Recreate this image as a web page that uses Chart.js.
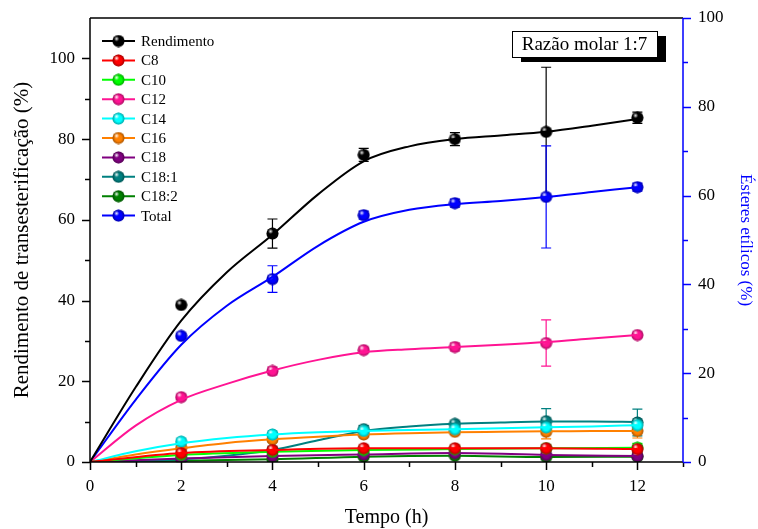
<!DOCTYPE html>
<html>
<head>
<meta charset="utf-8">
<script src="https://cdn.jsdelivr.net/npm/chart.js@4.4.1/dist/chart.umd.min.js"></script>
<style>
  html, body { margin: 0; padding: 0; background: #fff; }
  #wrap { width: 758px; height: 529px; }
</style>
</head>
<body>
<div id="wrap"><canvas id="c" width="758" height="529"></canvas></div>
<script>
// Sampling times (h) of the measured points and of the fitted curves
const tempo = [0, 2, 4, 6, 8, 10, 12];
const horas = [0, 1, 2, 3, 4, 5, 6, 7, 8, 9, 10, 11, 12];

// Transesterification yield (%), left axis
const rendimento      = [0, 38.9, 56.6, 76.1, 80.0, 81.8, 85.3];
const rendimentoErr   = [0, 0, 3.6, 1.6, 1.6, 16.0, 1.4];
const rendimentoCurva = [0, 18.5, 35.0, 47.0, 56.3, 66.3, 74.5, 78.2, 80.0, 80.9, 81.8, 83.3, 85.0];

// Ethyl esters (%), right axis
const c8      = [0, 2.0, 2.7, 3.1, 3.1, 3.1, 2.9];
const c8Err   = [0, 0.3, 0.4, 0.4, 0.4, 0.4, 0.6];
const c10     = [0, 1.6, 2.3, 2.7, 2.9, 3.1, 3.2];
const c10Err  = [0, 0.3, 0.3, 0.3, 0.3, 0.3, 1.0];
const c12      = [0, 14.6, 20.5, 25.2, 25.9, 26.8, 28.6];
const c12Err   = [0, 0.5, 0.9, 0.5, 0.9, 5.2, 0.4];
const c12Curva = [0, 8.2, 14.0, 17.6, 20.6, 23.0, 24.7, 25.4, 25.9, 26.4, 27.0, 27.8, 28.6];
const c14      = [0, 4.6, 6.2, 7.0, 7.4, 7.8, 8.3];
const c14Err   = [0, 0.6, 0.5, 0.4, 0.4, 0.4, 0.5];
const c14Curva = [0, 2.4, 4.2, 5.4, 6.2, 6.7, 7.0, 7.2, 7.4, 7.6, 7.8, 8.0, 8.3];
const c16      = [0, 3.2, 5.1, 6.2, 6.8, 6.8, 7.0];
const c16Err   = [0, 0.6, 0.6, 0.5, 0.5, 1.6, 1.6];
const c16Curva = [0, 1.7, 3.1, 4.3, 5.1, 5.7, 6.2, 6.5, 6.7, 6.8, 6.9, 7.0, 7.0];
const c18     = [0, 0.8, 1.35, 1.7, 2.0, 1.6, 1.35];
const c18Err  = [0, 0.3, 0.3, 0.3, 0.3, 0.3, 0.3];
const c181      = [0, 0.5, 2.7, 7.4, 8.6, 9.2, 8.9];
const c181Err   = [0, 0.3, 0.5, 0.8, 0.5, 2.8, 3.0];
const c181Curva = [0, 0.2, 0.6, 1.4, 2.7, 4.9, 7.0, 8.0, 8.6, 8.9, 9.1, 9.1, 9.0];
const c182    = [0, 0.3, 0.6, 1.2, 1.4, 1.1, 1.2];
const c182Err = [0, 0.2, 0.2, 0.2, 0.2, 0.2, 0.2];
const total      = [0, 28.4, 41.2, 55.6, 58.3, 59.7, 61.9];
const totalErr   = [0, 0.5, 3.0, 0.9, 0.9, 11.5, 0.9];
const totalCurva = [0, 14.0, 26.4, 35.2, 41.7, 48.7, 54.1, 56.8, 58.1, 58.8, 59.7, 60.8, 61.9];

// Axis tick labels
const xTickLabels = ['0', '2', '4', '6', '8', '10', '12'];
const yLeftTicks  = [0, 20, 40, 60, 80, 100];
const yRightTicks = [0, 20, 40, 60, 80, 100];

const SERIF = "'Liberation Serif', 'Times New Roman', serif";
Chart.defaults.font.family = SERIF;
Chart.defaults.color = '#000';

// Shaded ball marker
function sphere(color) {
  const s = 13, c = document.createElement('canvas');
  c.width = s; c.height = s;
  const g = c.getContext('2d');
  g.beginPath(); g.arc(6.5, 6.5, 6, 0, Math.PI * 2);
  g.fillStyle = color; g.fill();
  const sh = g.createRadialGradient(6.5, 6.5, 0, 6.5, 6.5, 6);
  sh.addColorStop(0.55, 'rgba(0,0,0,0)');
  sh.addColorStop(1, 'rgba(0,0,0,0.35)');
  g.fillStyle = sh; g.fill();
  const hl = g.createRadialGradient(4.6, 4.3, 0, 4.6, 4.3, 2.6);
  hl.addColorStop(0, 'rgba(255,255,255,0.95)');
  hl.addColorStop(1, 'rgba(255,255,255,0)');
  g.fillStyle = hl; g.fill();
  return c;
}

const toPoints = (xs, ys) => xs.map((t, i) => ({ x: t, y: ys[i] }));

// Each series: a smooth curve plus its measured points with error bars
function series(label, values, errors, color, axis, curveX, curveY) {
  const img = sphere(color);
  const curve = {
    label: label + ' (curva)',
    data: toPoints(curveX, curveY),
    yAxisID: axis,
    borderColor: color,
    borderWidth: 2,
    cubicInterpolationMode: 'monotone',
    pointRadius: 0,
    pointHoverRadius: 0,
  };
  const points = {
    label,
    legend: true,
    data: toPoints(tempo, values).slice(1),
    errors: errors.slice(1),
    yAxisID: axis,
    showLine: false,
    borderColor: color,
    backgroundColor: color,
    pointStyle: img,
    markerImage: img,
    pointRadius: 6,
    pointHoverRadius: 6,
  };
  return [curve, points];
}

const datasets = [
  ...series('Rendimento', rendimento, rendimentoErr, '#000000', 'y', horas, rendimentoCurva),
  ...series('C8', c8, c8Err, '#ff0000', 'y2', tempo, c8),
  ...series('C10', c10, c10Err, '#00ff00', 'y2', tempo, c10),
  ...series('C12', c12, c12Err, '#ff1493', 'y2', horas, c12Curva),
  ...series('C14', c14, c14Err, '#00ffff', 'y2', horas, c14Curva),
  ...series('C16', c16, c16Err, '#ff8000', 'y2', horas, c16Curva),
  ...series('C18', c18, c18Err, '#800080', 'y2', tempo, c18),
  ...series('C18:1', c181, c181Err, '#008080', 'y2', horas, c181Curva),
  ...series('C18:2', c182, c182Err, '#008000', 'y2', tempo, c182),
  ...series('Total', total, totalErr, '#0000ff', 'y2', horas, totalCurva),
];

// Vertical error bars with caps
const errorBars = {
  id: 'errorBars',
  beforeDatasetsDraw(chart) {
    const { ctx } = chart;
    const xs = chart.scales.x;
    ctx.save();
    ctx.lineWidth = 1.2;
    chart.data.datasets.forEach(ds => {
      if (!ds.errors) return;
      const ys = chart.scales[ds.yAxisID];
      ctx.strokeStyle = ds.borderColor;
      ds.data.forEach((p, i) => {
        const e = ds.errors[i];
        if (!e) return;
        const x = xs.getPixelForValue(p.x);
        const t = ys.getPixelForValue(p.y + e);
        const b = ys.getPixelForValue(p.y - e);
        ctx.beginPath();
        ctx.moveTo(x, t); ctx.lineTo(x, b);
        ctx.moveTo(x - 5, t); ctx.lineTo(x + 5, t);
        ctx.moveTo(x - 5, b); ctx.lineTo(x + 5, b);
        ctx.stroke();
      });
    });
    ctx.restore();
  }
};

// Axis frame with major and minor tick marks
const frame = {
  id: 'frame',
  afterDatasetsDraw(chart) {
    const { ctx, chartArea: a } = chart;
    const xs = chart.scales.x, yl = chart.scales.y, yr = chart.scales.y2;
    ctx.save();
    ctx.lineWidth = 1.5;
    ctx.strokeStyle = '#000';
    ctx.beginPath();
    ctx.moveTo(a.left, a.top); ctx.lineTo(a.right, a.top);
    ctx.moveTo(a.left, a.top); ctx.lineTo(a.left, a.bottom);
    ctx.moveTo(a.left, a.bottom); ctx.lineTo(a.right, a.bottom);
    for (let v = 0; v <= 13; v++) {
      const x = Math.round(xs.getPixelForValue(v)) + 0.5;
      const len = (v % 2 === 0 && v <= 12) ? 8 : 5;
      ctx.moveTo(x, a.bottom); ctx.lineTo(x, a.bottom + len);
    }
    for (let v = 0; v <= 100; v += 10) {
      const y = Math.round(yl.getPixelForValue(v)) + 0.5;
      const len = yLeftTicks.includes(v) ? 8 : 5;
      ctx.moveTo(a.left, y); ctx.lineTo(a.left - len, y);
    }
    ctx.stroke();
    ctx.strokeStyle = '#0000ff';
    ctx.beginPath();
    ctx.moveTo(a.right, a.top); ctx.lineTo(a.right, a.bottom);
    for (let v = 0; v <= 100; v += 10) {
      const y = Math.round(yr.getPixelForValue(v)) + 0.5;
      const len = yRightTicks.includes(v) ? 8 : 5;
      ctx.moveTo(a.right, y); ctx.lineTo(a.right + len, y);
    }
    ctx.stroke();
    ctx.restore();
  }
};

// Legend (line + marker) and the molar ratio label
const extras = {
  id: 'extras',
  afterDraw(chart) {
    const { ctx } = chart;
    ctx.save();
    ctx.font = '15px ' + SERIF;
    ctx.textBaseline = 'middle';
    ctx.textAlign = 'left';
    chart.data.datasets.filter(ds => ds.legend).forEach((ds, i) => {
      const y = 41 + i * 19.4;
      ctx.strokeStyle = ds.borderColor;
      ctx.lineWidth = 2;
      ctx.beginPath(); ctx.moveTo(102, y); ctx.lineTo(135, y); ctx.stroke();
      ctx.drawImage(ds.markerImage, 118.5 - 6.5, y - 6.5);
      ctx.fillStyle = '#000';
      ctx.fillText(ds.label, 141, y + 1);
    });

    const bx = 512, by = 31, bw = 145, bh = 26;
    ctx.fillStyle = '#000';
    ctx.fillRect(bx + 9, by + 5, bw, bh);
    ctx.fillStyle = '#fff';
    ctx.fillRect(bx, by, bw, bh);
    ctx.strokeStyle = '#000';
    ctx.lineWidth = 1;
    ctx.strokeRect(bx + 0.5, by + 0.5, bw, bh);
    ctx.fillStyle = '#000';
    ctx.font = '19px ' + SERIF;
    ctx.textAlign = 'center';
    ctx.fillText('Razão molar 1:7', bx + bw / 2, by + bh / 2 + 1);
    ctx.restore();
  }
};

const hidden = { color: 'rgba(0,0,0,0)', drawOnChartArea: false, drawTicks: true, tickLength: 8 };

new Chart(document.getElementById('c'), {
  type: 'line',
  data: { datasets },
  options: {
    responsive: false,
    animation: false,
    layout: { padding: { top: 18, left: 0, right: 0, bottom: 0 } },
    plugins: { legend: { display: false }, tooltip: { enabled: false } },
    scales: {
      x: {
        type: 'linear', position: 'bottom', min: 0, max: 13,
        afterFit(s) { s.height = 67; },
        grid: hidden, border: { display: false },
        ticks: {
          stepSize: 1, autoSkip: false, maxRotation: 0, padding: 6,
          font: { size: 17 }, color: '#000',
          callback: v => { const s = String(v); return xTickLabels.includes(s) ? s : ''; }
        },
        title: { display: true, text: 'Tempo (h)', font: { size: 20 }, color: '#000', padding: { top: 0, bottom: -1 } }
      },
      y: {
        position: 'left', min: 0, max: 110,
        afterFit(s) { s.width = 90; },
        grid: hidden, border: { display: false },
        ticks: {
          stepSize: 20, padding: 7, font: { size: 17 }, color: '#000',
          callback: v => (yLeftTicks.includes(v) ? String(v) : '')
        },
        title: { display: true, text: 'Rendimento de transesterificação (%)', font: { size: 21 }, color: '#000', padding: { top: 10, bottom: 0 } }
      },
      y2: {
        position: 'right', min: 0, max: 100,
        afterFit(s) { s.width = 75; },
        grid: hidden, border: { display: false },
        ticks: {
          stepSize: 20, padding: 7, font: { size: 17 }, color: '#000',
          callback: v => (yRightTicks.includes(v) ? String(v) : '')
        },
        title: { display: true, text: 'Ésteres etílicos (%)', font: { size: 17 }, color: '#0000ff', padding: { top: 2, bottom: 0 } }
      }
    }
  },
  plugins: [errorBars, frame, extras]
});
</script>
</body>
</html>
